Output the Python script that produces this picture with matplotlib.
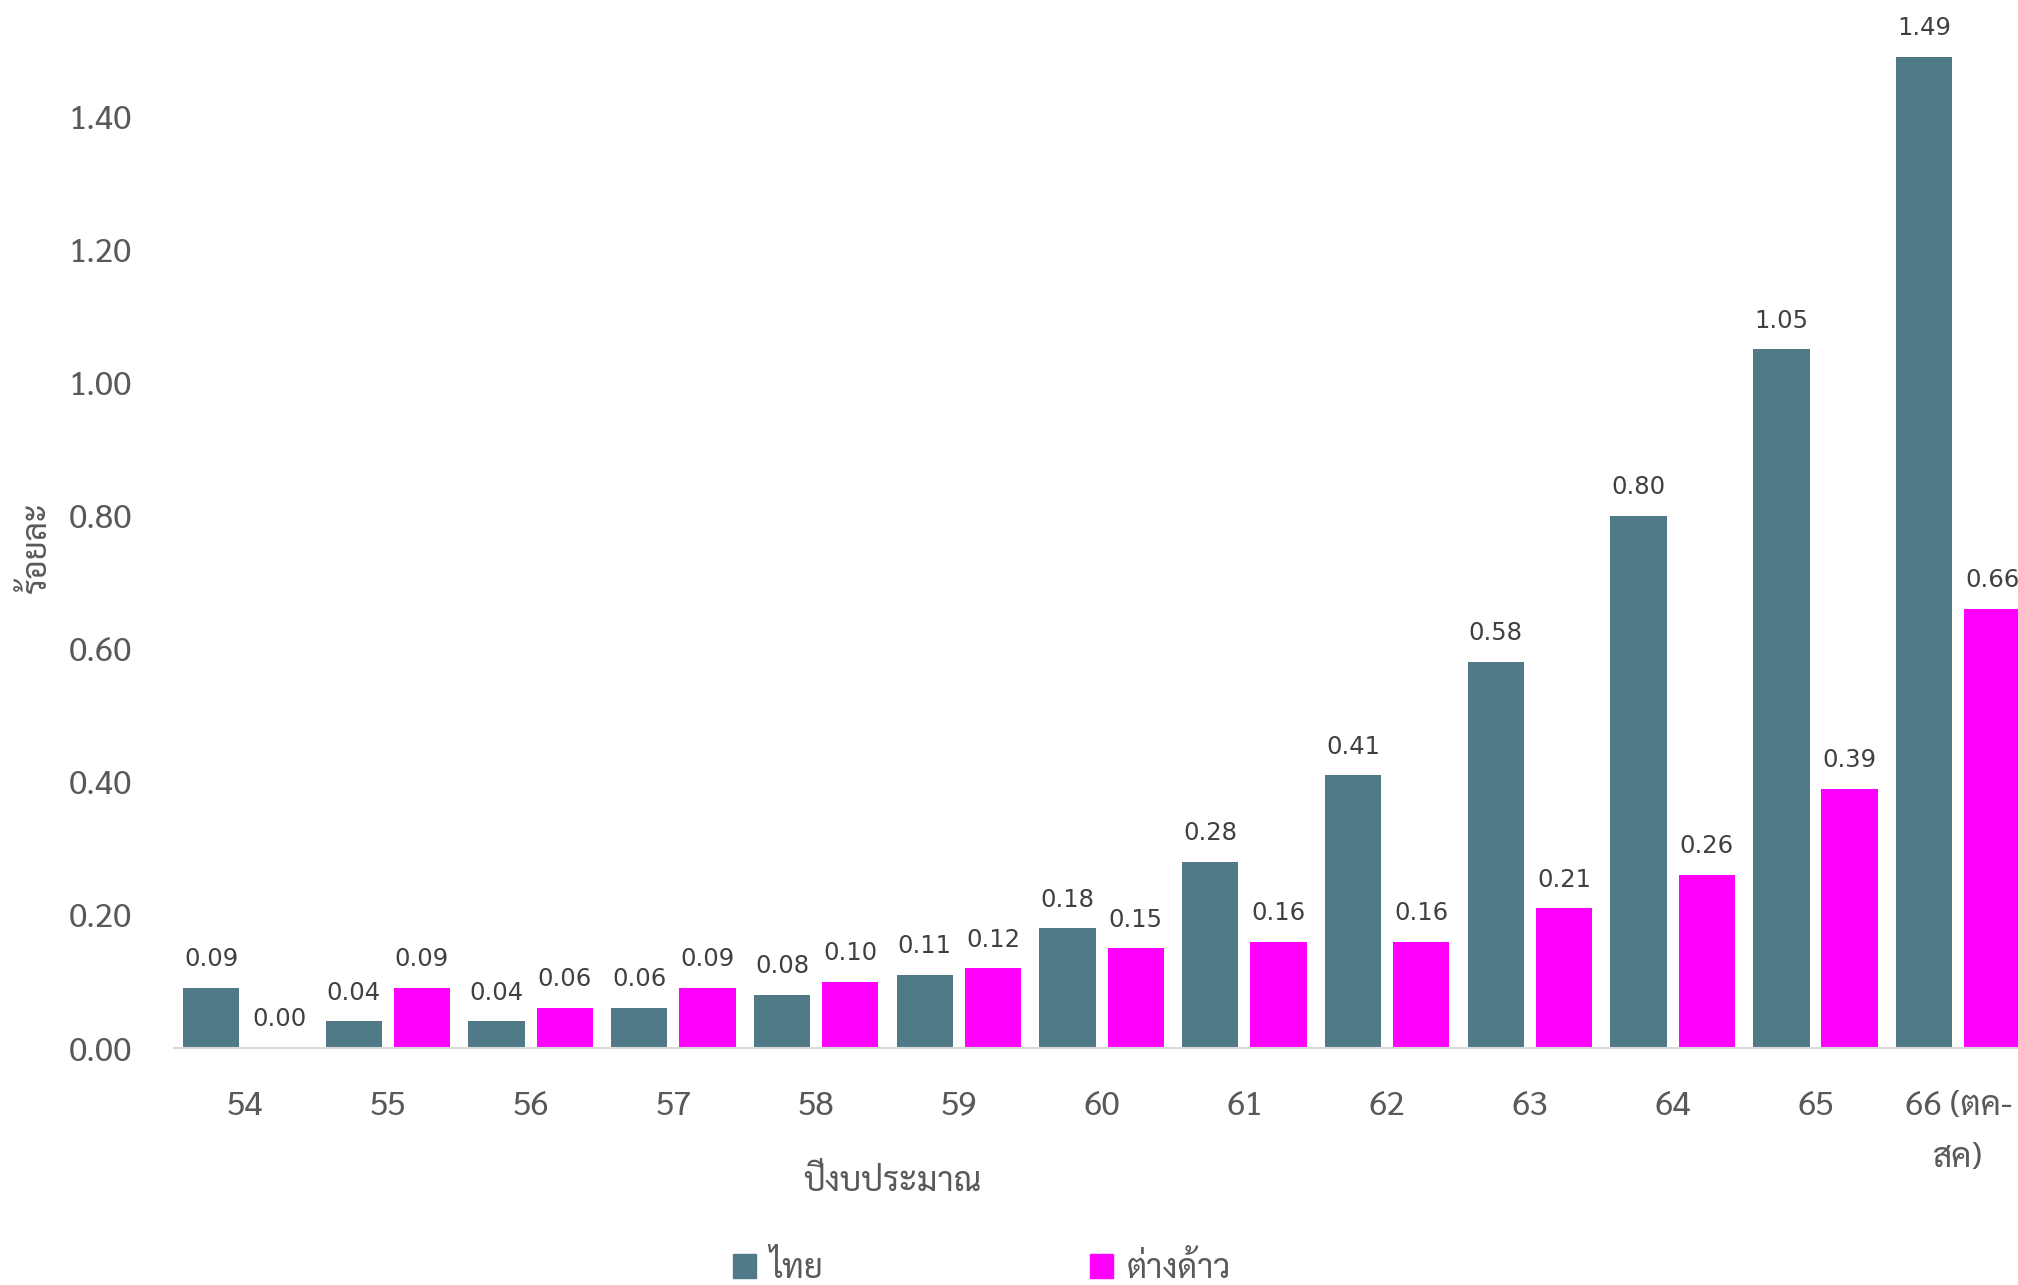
import matplotlib
matplotlib.use("Agg")
import matplotlib.pyplot as plt
import numpy as np
from matplotlib.patches import Patch

# ปีงบประมาณ
years = ['54', '55', '56', '57', '58', '59', '60', '61', '62', '63', '64', '65', '66 (ตค-\nสค)']
thai = [0.09, 0.04, 0.04, 0.06, 0.08, 0.11, 0.18, 0.28, 0.41, 0.58, 0.80, 1.05, 1.49]
foreign = [0.00, 0.09, 0.06, 0.09, 0.10, 0.12, 0.15, 0.16, 0.16, 0.21, 0.26, 0.39, 0.66]
yticks = [0.0, 0.2, 0.4, 0.6, 0.8, 1.0, 1.2, 1.4]

c_thai = '#507A88'
c_foreign = '#FF00FF'
txt = '#595959'

plt.rcParams['font.family'] = ['Sarabun', 'DejaVu Sans']

fig = plt.figure(figsize=(20.18, 12.85), dpi=100)
# แกนกว้างเลยขอบขวาเล็กน้อย แท่งสุดท้ายจึงถูกตัด
ax = fig.add_axes([135 / 1568, 0.1844, 1442 / 1568, 0.8156])

x = np.arange(len(years))
w = 0.395
off = 0.239
b1 = ax.bar(x - off, thai, w, color=c_thai)
b2 = ax.bar(x + off, foreign, w, color=c_foreign)

for bars, vals in ((b1, thai), (b2, foreign)):
    for r, v in zip(bars, vals):
        ax.annotate(f'{v:.2f}', (r.get_x() + r.get_width() / 2, v),
                    xytext=(0, 12), textcoords='offset points',
                    ha='center', va='bottom', fontsize=17.5, color='#404040',
                    family='DejaVu Sans')

ax.set_xlim(-0.5, len(years) - 0.5)
ax.set_ylim(0, 1.575)
ax.set_yticks(yticks)
ax.set_yticklabels([f'{t:.2f}' for t in yticks])
ax.set_xticks(x)
ax.set_xticklabels(years, linespacing=1.8)
ax.tick_params(axis='both', length=0, labelsize=24, colors=txt)
ax.tick_params(axis='y', pad=30)
ax.tick_params(axis='x', pad=30)

for s in ['top', 'right', 'left']:
    ax.spines[s].set_visible(False)
ax.spines['bottom'].set_color('#D9D9D9')
ax.spines['bottom'].set_linewidth(1.5)

fig.text(693 / 1568, 1 - 918 / 998, 'ปีงบประมาณ', ha='center', va='center',
         fontsize=24, color=txt)
fig.text(29 / 1568, 1 - 425 / 998, 'ร้อยละ', ha='center', va='center',
         rotation=90, fontsize=24, color=txt)

handles = [Patch(color=c_thai, label='ไทย'), Patch(color=c_foreign, label='ต่างด้าว')]
fig.legend(handles=handles, loc='center', bbox_to_anchor=(763 / 1568, 1 - 985 / 998),
           ncol=2, frameon=False, fontsize=24, labelcolor=txt,
           handlelength=0.7, handleheight=0.7, handletextpad=0.4, columnspacing=8,
           borderpad=0)

fig.savefig('out.png', dpi=100)
